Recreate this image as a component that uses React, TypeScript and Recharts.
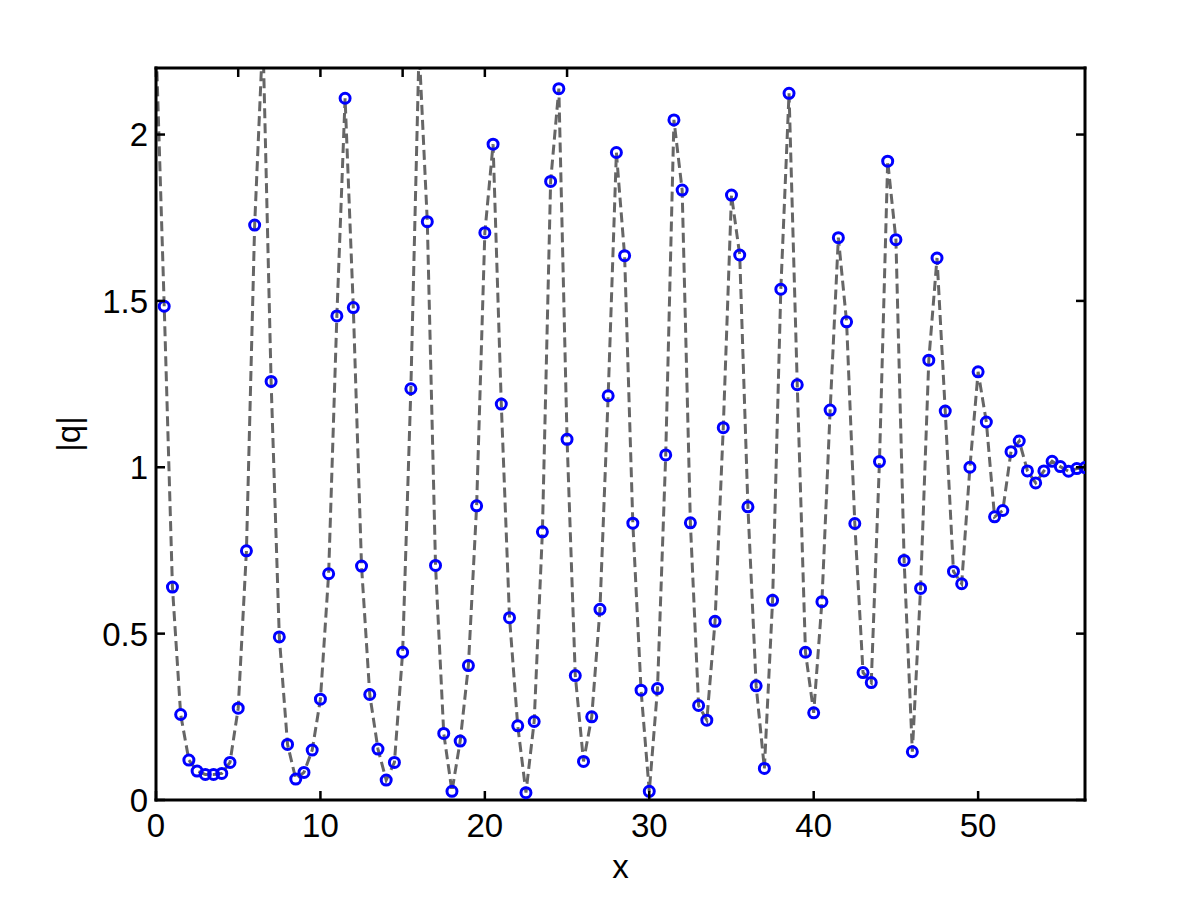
import { LineChart, Line, XAxis, YAxis } from "recharts";

// sample positions along x (step 0.5)
const xs = [
  0, 0.5, 1, 1.5, 2, 2.5, 3, 3.5, 4, 4.5, 5, 5.5, 6, 6.5, 7, 7.5, 8, 8.5, 9, 9.5,
  10, 10.5, 11, 11.5, 12, 12.5, 13, 13.5, 14, 14.5, 15, 15.5, 16, 16.5, 17, 17.5, 18, 18.5, 19, 19.5,
  20, 20.5, 21, 21.5, 22, 22.5, 23, 23.5, 24, 24.5, 25, 25.5, 26, 26.5, 27, 27.5, 28, 28.5, 29, 29.5,
  30, 30.5, 31, 31.5, 32, 32.5, 33, 33.5, 34, 34.5, 35, 35.5, 36, 36.5, 37, 37.5, 38, 38.5, 39, 39.5,
  40, 40.5, 41, 41.5, 42, 42.5, 43, 43.5, 44, 44.5, 45, 45.5, 46, 46.5, 47, 47.5, 48, 48.5, 49, 49.5,
  50, 50.5, 51, 51.5, 52, 52.5, 53, 53.5, 54, 54.5, 55, 55.5, 56, 56.5,
];

// |q|
const qAbs = [
  2.28, 1.484, 0.64, 0.257, 0.12, 0.087, 0.077, 0.077, 0.08, 0.113, 0.276, 0.749, 1.728, 2.3, 1.258, 0.49, 0.167, 0.063, 0.083, 0.15,
  0.303, 0.68, 1.455, 2.109, 1.48, 0.703, 0.317, 0.153, 0.06, 0.113, 0.444, 1.236, 2.26, 1.738, 0.705, 0.2, 0.026, 0.177, 0.404, 0.884,
  1.705, 1.971, 1.19, 0.548, 0.223, 0.022, 0.236, 0.806, 1.859, 2.138, 1.084, 0.374, 0.116, 0.25, 0.573, 1.215, 1.946, 1.636, 0.832, 0.33,
  0.026, 0.335, 1.037, 2.044, 1.833, 0.833, 0.284, 0.24, 0.537, 1.119, 1.818, 1.638, 0.881, 0.343, 0.095, 0.6, 1.535, 2.124, 1.248, 0.444,
  0.262, 0.596, 1.172, 1.69, 1.437, 0.831, 0.383, 0.353, 1.017, 1.92, 1.684, 0.72, 0.145, 0.636, 1.322, 1.629, 1.169, 0.687, 0.65, 1.0,
  1.287, 1.136, 0.851, 0.87, 1.047, 1.079, 0.989, 0.953, 0.989, 1.018, 1.002, 0.988, 0.996, 0.999,
];

const xTicks = [0, 10, 20, 30, 40, 50];
const yTicks = [0, 0.5, 1, 1.5, 2];

const data = xs.map((x, i) => ({ x, q: qAbs[i] }));

const FONT = "'Liberation Sans', Arial, Helvetica, sans-serif";
const FS = 33;
const TICK_LEN = 9;
const axisStyle = { stroke: "#000", strokeWidth: 3, strokeLinecap: "square" as const };

function BottomTick({ x, y, payload }: any) {
  return (
    <g>
      <line x1={x} x2={x} y1={y} y2={y - TICK_LEN} stroke="#000" strokeWidth={2.5} />
      <text x={x} y={y + 37} textAnchor="middle" fontSize={FS} fontFamily={FONT} fill="#000">
        {payload.value}
      </text>
    </g>
  );
}

function TopTick({ x, y }: any) {
  return <line x1={x} x2={x} y1={y} y2={y + TICK_LEN} stroke="#000" strokeWidth={2.5} />;
}

function LeftTick({ x, y, payload }: any) {
  return (
    <g>
      <line x1={x} x2={x + TICK_LEN} y1={y} y2={y} stroke="#000" strokeWidth={2.5} />
      <text x={x - 8} y={y} dy="0.36em" textAnchor="end" fontSize={FS} fontFamily={FONT} fill="#000">
        {payload.value}
      </text>
    </g>
  );
}

function RightTick({ x, y }: any) {
  return <line x1={x} x2={x - TICK_LEN} y1={y} y2={y} stroke="#000" strokeWidth={2.5} />;
}

export default function App() {
  return (
    <div style={{ position: "absolute", left: 0, top: 0, background: "#fff" }}>
      <LineChart width={1200} height={900} data={data} margin={{ top: 0, right: 0, bottom: 0, left: 0 }}>
        <XAxis
          xAxisId="bottom"
          dataKey="x"
          type="number"
          domain={[0, 56.5]}
          allowDataOverflow
          ticks={xTicks}
          interval={0}
          height={100}
          tickSize={0}
          tickMargin={0}
          tickLine={false}
          axisLine={axisStyle}
          tick={<BottomTick />}
          label={{ value: "x", position: "insideBottom", offset: 22, fontSize: FS, fontFamily: FONT, fill: "#000" }}
        />
        <XAxis
          xAxisId="top"
          orientation="top"
          type="number"
          domain={[0, 56.5]}
          allowDataOverflow
          ticks={xTicks}
          interval={0}
          height={68}
          tickSize={0}
          tickMargin={0}
          tickLine={false}
          axisLine={axisStyle}
          tick={<TopTick />}
        />
        <YAxis
          yAxisId="left"
          type="number"
          domain={[0, 2.2]}
          allowDataOverflow
          ticks={yTicks}
          interval={0}
          width={156}
          tickSize={0}
          tickMargin={0}
          tickLine={false}
          axisLine={axisStyle}
          tick={<LeftTick />}
          label={{
            value: "|q|",
            angle: -90,
            position: "insideLeft",
            offset: 68,
            fontSize: FS,
            fontFamily: FONT,
            fill: "#000",
            style: { textAnchor: "middle" },
          }}
        />
        <YAxis
          yAxisId="right"
          orientation="right"
          type="number"
          domain={[0, 2.2]}
          allowDataOverflow
          ticks={yTicks}
          interval={0}
          width={115}
          tickSize={0}
          tickMargin={0}
          tickLine={false}
          axisLine={axisStyle}
          tick={<RightTick />}
        />
        <Line
          xAxisId="bottom"
          yAxisId="left"
          dataKey="q"
          stroke="none"
          dot={{ r: 5, stroke: "#0000ff", strokeWidth: 3, fill: "none" }}
          activeDot={false}
          isAnimationActive={false}
        />
        <Line
          xAxisId="bottom"
          yAxisId="left"
          dataKey="q"
          type="linear"
          stroke="#666666"
          strokeWidth={3}
          strokeDasharray="10 5"
          dot={false}
          activeDot={false}
          isAnimationActive={false}
        />
      </LineChart>
    </div>
  );
}
